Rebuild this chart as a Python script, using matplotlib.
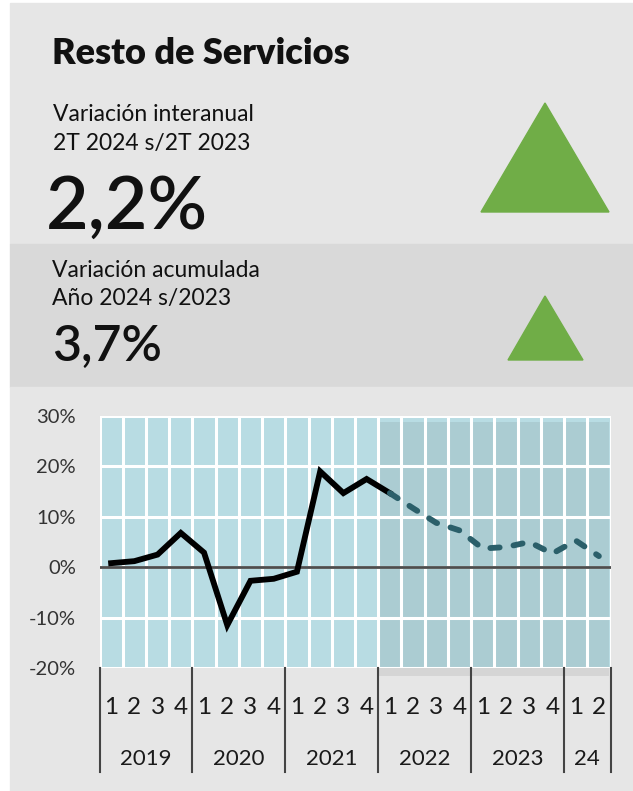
import matplotlib.pyplot as plt
from matplotlib.patches import Rectangle, Polygon
import matplotlib.transforms as mtransforms

plt.rcParams['font.family'] = ['Lato', 'DejaVu Sans']

W, H = 633, 791

# data
years = ['2019', '2020', '2021', '2022', '2023', '24']
quarters_per_year = [4, 4, 4, 4, 4, 2]
values = [0.8, 1.2, 2.5, 6.8, 2.9, -11.5, -2.7, -2.3, -0.9, 19.0, 14.7, 17.5,
          14.7, 11.7, 8.8, 7.3, 3.7, 4.0, 5.0, 2.7, 5.3, 2.2]
forecast_start = 12   # first quarter of 2022, dashed part from here
y_ticks = [-20, -10, 0, 10, 20, 30]

title = 'Resto de Servicios'
label1 = ['Variación interanual', '2T 2024 s/2T 2023']
value1 = '2,2%'
label2 = ['Variación acumulada', 'Año 2024 s/2023']
value2 = '3,7%'

fig = plt.figure(figsize=(W / 100, H / 100), dpi=100)


def fx(x):
    return x / W


def fy(y):
    return 1 - y / H


def band(x0, y0, x1, y1, color):
    fig.patches.append(Rectangle((fx(x0), fy(y1)), fx(x1) - fx(x0), fy(y0) - fy(y1),
                                 transform=fig.transFigure, color=color, zorder=0))


band(10, 3, W, 244, '#e6e6e6')
band(10, 244, W, 387, '#d9d9d9')
band(10, 387, W, H, '#e6e6e6')

# header texts
fig.text(fx(52), fy(64), title, fontsize=26, fontweight='heavy', color='#111111', va='baseline')
fig.text(fx(53), fy(121), label1[0], fontsize=16.5, color='#111111', va='baseline')
fig.text(fx(53), fy(150), label1[1], fontsize=16.5, color='#111111', va='baseline')
fig.text(fx(46), fy(229), value1, fontsize=53, fontweight='semibold', color='#111111', va='baseline')
fig.text(fx(52), fy(277), label2[0], fontsize=16.5, color='#111111', va='baseline')
fig.text(fx(52), fy(305), label2[1], fontsize=16.5, color='#111111', va='baseline')
fig.text(fx(52), fy(361), value2, fontsize=36, fontweight='semibold', color='#111111', va='baseline')

# up arrows
for pts in ([(481, 212), (609, 212), (545, 103)], [(508, 360), (583, 360), (545, 296)]):
    fig.patches.append(Polygon([(fx(a), fy(b)) for a, b in pts], closed=True,
                               transform=fig.transFigure, color='#70ad47', zorder=1))

# chart
ax = fig.add_axes([fx(99.5), fy(668), fx(610.5) - fx(99.5), fy(416) - fy(668)])
ax.set_zorder(5)
n = len(values)
ax.set_xlim(0, n)
ax.set_ylim(-20, 30)
ax.set_facecolor('#b8dce3')
for s in ax.spines.values():
    s.set_visible(False)

for i in range(n + 1):
    ax.axvline(i, color='white', lw=2.2, zorder=2)
for t in y_ticks:
    ax.axhline(t, color='white', lw=2.2, zorder=2)
ax.axhline(0, color='#4d4d4d', lw=2, zorder=3)

# shaded forecast zone
ax.add_patch(Rectangle((forecast_start, -21.6), n - 0.05 - forecast_start, 28.8 + 21.6,
                       color='black', alpha=0.07, lw=0, zorder=1, clip_on=False))

xs = [i + 0.5 for i in range(n)]
ax.plot(xs[:forecast_start + 1], values[:forecast_start + 1], color='black', lw=4.2,
        solid_joinstyle='miter', zorder=4)
ax.plot(xs[forecast_start:], values[forecast_start:], color='#2b5f6a', lw=4.2,
        dashes=(1.6, 2.4), dash_capstyle='round', zorder=4)

ax.set_xticks([])
ax.set_yticks(y_ticks)
ax.set_yticklabels([f'{t}%' for t in y_ticks], fontsize=14.5, color='#333333')
ax.tick_params(axis='y', length=0, pad=17)

trans = mtransforms.blended_transform_factory(ax.transData, ax.transAxes)
pos = 0
bounds = [0]
for q in quarters_per_year:
    pos += q
    bounds.append(pos)
for b in bounds:
    ax.plot([b, b], [0, -104 / 252], color='#444444', lw=1.5, transform=trans, clip_on=False)

k = 0
for yr, q in zip(years, quarters_per_year):
    for j in range(q):
        ax.text(k + j + 0.5, -39 / 252, str(j + 1), transform=trans, ha='center', va='center',
                fontsize=17.5, color='#1a1a1a')
    ax.text(k + q / 2, -91 / 252, yr, transform=trans, ha='center', va='center',
            fontsize=16, color='#1a1a1a')
    k += q

fig.savefig('out.png', dpi=100, facecolor='white')
